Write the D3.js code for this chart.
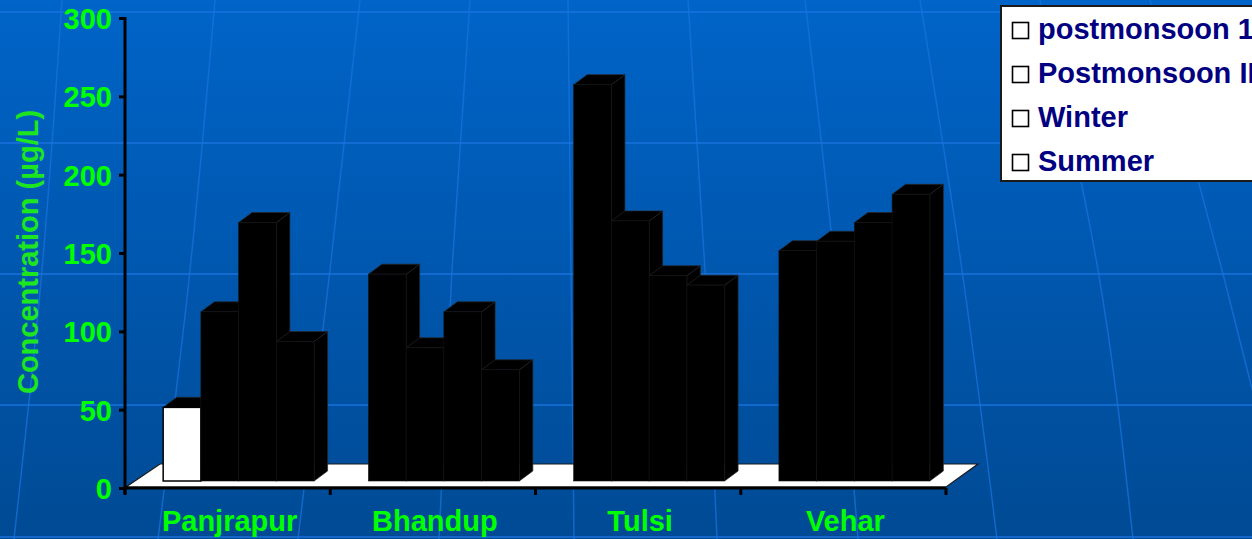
<!DOCTYPE html>
<html>
<head>
<meta charset="utf-8">
<script src="https://cdn.jsdelivr.net/npm/d3@7/dist/d3.min.js"></script>
<style>
  html, body { margin: 0; padding: 0; background: #0058b0; }
  svg { display: block; }
  text { font-family: "Liberation Sans", Arial, sans-serif; font-weight: bold; }
</style>
</head>
<body>
<svg id="chart" width="1252" height="539"></svg>
<script>
// Sampling sites and seasonal concentrations (µg/L)
const categories = ["Panjrapur", "Bhandup", "Tulsi", "Vehar"];
const seriesNames = ["postmonsoon 1", "Postmonsoon II", "Winter", "Summer"];
const postmonsoon1 = [47, 132, 253, 147];
const postmonsoon2 = [108, 85, 166, 153];
const winter = [165, 108, 131, 165];
const summer = [89, 71, 125, 183];
const yTickValues = [0, 50, 100, 150, 200, 250, 300];

const seriesValues = [postmonsoon1, postmonsoon2, winter, summer];

const W = 1252, H = 539;
const svg = d3.select("#chart");

// ---- slide background: vertical gradient with a faint globe grid ----
const defs = svg.append("defs");
const grad = defs.append("linearGradient").attr("id", "bg")
  .attr("x1", 0).attr("y1", 0).attr("x2", 0).attr("y2", 1);
grad.append("stop").attr("offset", "0%").attr("stop-color", "#0064c8");
grad.append("stop").attr("offset", "100%").attr("stop-color", "#004a94");
svg.append("rect").attr("width", W).attr("height", H).attr("fill", "url(#bg)");

const gridG = svg.append("g").attr("stroke", "#1a74e0").attr("stroke-opacity", 0.7)
  .attr("fill", "none").attr("stroke-width", 2);
[12, 143, 274, 405, 537].forEach(y => {
  gridG.append("line").attr("x1", 0).attr("x2", W).attr("y1", y).attr("y2", y);
});
const meridians = [
  [62, 42, 14], [215, 190, 158], [360, 330, 298], [470, 452, 439],
  [568, 571, 574], [688, 705, 717], [805, 835, 858], [920, 962, 997],
  [1040, 1098, 1133], [1150, 1222, 1290]
];
const curve = d3.line().curve(d3.curveNatural);
meridians.forEach(m => {
  gridG.append("path").attr("stroke-width", 1.5)
    .attr("d", curve([[m[0], 0], [m[1], 270], [m[2], 539]]));
});

// ---- scales ----
const x0 = 125, x1 = 946, yAxis0 = 488;
const xBand = d3.scaleBand().domain(categories).range([x0, x1]).paddingInner(0).paddingOuter(0);
const xSeries = d3.scaleBand().domain(seriesNames).range([0, xBand.bandwidth()])
  .paddingInner(0).paddingOuter(0.72);
const yAxisScale = d3.scaleLinear().domain([0, 300]).range([yAxis0, 18]);

// bars stand a little way back on the floor
const shift = { dx: 11, dy: -7 };
const yBar = d3.scaleLinear().domain([0, 300])
  .range([yAxis0 + shift.dy, 18 + shift.dy]);
const depth = { dx: 13.5, dy: -10 };

// ---- floor ----
svg.append("polygon")
  .attr("points", [[x0 + 1, 487], [x1, 487], [x1 + 32, 464], [x0 + 35, 464]].map(p => p.join(",")).join(" "))
  .attr("fill", "#ffffff").attr("stroke", "#1a1a1a").attr("stroke-width", 1.2);

// ---- 3D columns ----
const specialFill = { "postmonsoon 1|Panjrapur": "#ffffff" };
const barsG = svg.append("g");
categories.forEach((cat, ci) => {
  seriesNames.forEach((s, si) => {
    const v = seriesValues[si][ci];
    const bx = xBand(cat) + xSeries(s) + shift.dx;
    const bw = xSeries.bandwidth();
    const yb = yBar(0), yt = yBar(v);
    const front = specialFill[s + "|" + cat] || "#000000";
    const white = front === "#ffffff";
    const edge = "#262626";
    const g = barsG.append("g");
    // right side face
    g.append("polygon")
      .attr("points", [[bx + bw, yb], [bx + bw + depth.dx, yb + depth.dy],
                       [bx + bw + depth.dx, yt + depth.dy], [bx + bw, yt]].map(p => p.join(",")).join(" "))
      .attr("fill", "#000000").attr("stroke", edge).attr("stroke-width", 0.7);
    // top face
    g.append("polygon")
      .attr("points", [[bx, yt], [bx + depth.dx, yt + depth.dy],
                       [bx + bw + depth.dx, yt + depth.dy], [bx + bw, yt]].map(p => p.join(",")).join(" "))
      .attr("fill", "#000000").attr("stroke", edge).attr("stroke-width", 0.7);
    // front face
    g.append("rect")
      .attr("x", bx).attr("y", yt).attr("width", bw).attr("height", yb - yt)
      .attr("fill", front).attr("stroke", white ? "#000000" : "#141414")
      .attr("stroke-width", white ? 1.5 : 0.6);
  });
});

// ---- axes ----
const axG = svg.append("g").attr("transform", `translate(${x0},0)`)
  .call(d3.axisLeft(yAxisScale).tickValues(yTickValues).tickSize(6).tickPadding(7).tickFormat(d3.format("d")));
axG.select(".domain").remove();
axG.selectAll(".tick line").attr("stroke", "#000").attr("stroke-width", 3);
axG.selectAll(".tick text").attr("fill", "#00ff00").attr("font-size", 29)
  .attr("font-family", "'Liberation Sans', Arial, sans-serif").attr("font-weight", "bold")
  .attr("dy", "0.36em");
svg.append("line").attr("x1", x0).attr("x2", x0).attr("y1", 17).attr("y2", 494)
  .attr("stroke", "#000").attr("stroke-width", 3);
svg.append("line").attr("x1", x0).attr("x2", x1).attr("y1", yAxis0).attr("y2", yAxis0)
  .attr("stroke", "#000").attr("stroke-width", 3);
const boundaries = categories.map(c => xBand(c)).concat([x1]);
boundaries.forEach(bx => {
  svg.append("line").attr("x1", bx).attr("x2", bx).attr("y1", yAxis0).attr("y2", 495)
    .attr("stroke", "#000").attr("stroke-width", 3);
});

// category labels
svg.append("g").selectAll("text").data(categories).join("text")
  .attr("x", d => xBand(d) + xBand.bandwidth() / 2 + 2)
  .attr("y", 531)
  .attr("text-anchor", "middle")
  .attr("fill", "#00ff00").attr("font-size", 29)
  .text(d => d);

// value axis title
svg.append("text")
  .attr("transform", "translate(38,252) rotate(-90)")
  .attr("text-anchor", "middle")
  .attr("fill", "#1ee61e").attr("font-size", 29)
  .text("Concentration (µg/L)");

// ---- legend ----
const lg = svg.append("g");
lg.append("rect").attr("x", 1001).attr("y", 6).attr("width", 270).attr("height", 175)
  .attr("fill", "#ffffff").attr("stroke", "#1a1a1a").attr("stroke-width", 2);
seriesNames.forEach((s, i) => {
  const base = 39 + i * 44;
  lg.append("rect").attr("x", 1012.5).attr("y", base - 16.5).attr("width", 16).attr("height", 16)
    .attr("fill", "#ffffff").attr("stroke", "#000").attr("stroke-width", 1.6);
  lg.append("text").attr("x", 1038).attr("y", base)
    .attr("fill", "#000080").attr("font-size", 29).text(s);
});
</script>
</body>
</html>
